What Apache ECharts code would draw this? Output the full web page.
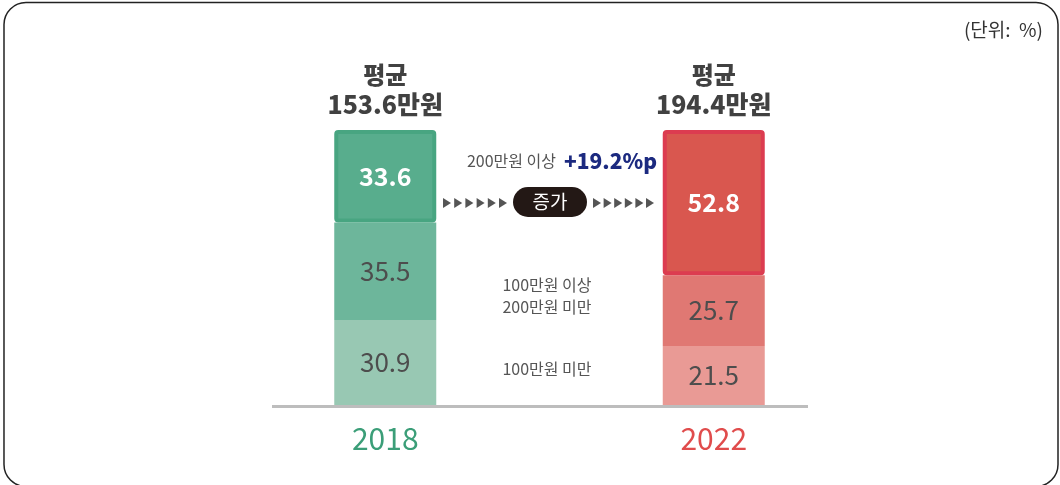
<!DOCTYPE html>
<html>
<head>
<meta charset="utf-8">
<script src="https://cdn.jsdelivr.net/npm/echarts@6/dist/echarts.min.js"></script>
<style>
html,body{margin:0;padding:0;background:#fff;}
#chart{width:1060px;height:485px;}
</style>
</head>
<body>
<div id="chart"></div>
<script>
const categories = ['2018', '2022'];
const under100 = [30.9, 21.5];
const from100to200 = [35.5, 25.7];
const over200 = [33.6, 52.8];
const averages = [153.6, 194.4];
const totals = [100, 100];

const FONT = '"Noto Sans CJK KR", "Noto Sans", sans-serif';
const lightColors = ['#98c8b3', '#e99a95'];
const midColors = ['#6db69b', '#e07873'];
const topColors = ['#58ad8d', '#d9574f'];
const topBorders = ['#48a581', '#dc3c50'];
const yearColors = ['#3b9e78', '#e04c4c'];

const chart = echarts.init(document.getElementById('chart'), null, {renderer: 'canvas'});

function tri(x, y) {
  return {type: 'polygon', shape: {points: [[x, y - 5], [x + 8, y], [x, y + 5]]}, style: {fill: '#555'}, silent: true};
}
const arrows = [];
for (let i = 0; i < 6; i++) arrows.push(tri(443 + i * 11.2, 203));
for (let i = 0; i < 6; i++) arrows.push(tri(593 + i * 10.6, 203));

const option = {
  animation: false,
  backgroundColor: '#fff',
  grid: {left: 221, right: 182, top: 130, bottom: 80},
  xAxis: {
    type: 'category',
    data: categories,
    axisLine: {show: false},
    axisTick: {show: false},
    axisLabel: {
      margin: 18,
      formatter: function (v, i) { return '{y' + i + '|' + v + '}'; },
      rich: {
        y0: {color: yearColors[0], fontSize: 30, fontFamily: FONT, lineHeight: 32},
        y1: {color: yearColors[1], fontSize: 30, fontFamily: FONT, lineHeight: 32}
      }
    }
  },
  yAxis: {type: 'value', min: 0, max: 100, show: false, splitLine: {show: false}},
  series: [
    {
      type: 'bar', stack: 's', barWidth: 102, z: 2,
      data: under100.map((v, i) => ({value: v, itemStyle: {color: lightColors[i]}})),
      label: {show: true, position: 'inside', color: '#4d4d4d', fontSize: 26, fontFamily: FONT}
    },
    {
      type: 'bar', stack: 's', barWidth: 102, z: 2,
      data: from100to200.map((v, i) => ({value: v, itemStyle: {color: midColors[i]}})),
      label: {show: true, position: 'inside', color: '#4d4d4d', fontSize: 26, fontFamily: FONT}
    },
    {
      type: 'bar', stack: 's', barWidth: 102, z: 3,
      data: over200.map((v, i) => ({value: v, itemStyle: {color: topColors[i], borderColor: topBorders[i], borderWidth: 4, borderRadius: 2}})),
      label: {show: true, position: 'inside', color: '#fff', fontSize: 25, fontWeight: 'bold', fontFamily: FONT}
    },
    {
      type: 'scatter', symbol: 'circle', symbolSize: 0.1, z: 4,
      itemStyle: {color: 'rgba(0,0,0,0)'},
      data: totals.map((v, i) => [categories[i], v]),
      label: {
        show: true, position: 'top', distance: 10,
        formatter: function (p) { return '{a|평균}\n{b|' + averages[p.dataIndex] + '만원}'; },
        rich: {
          a: {fontSize: 24, fontWeight: 900, color: '#111', fontFamily: FONT, lineHeight: 30, align: 'center'},
          b: {fontSize: 25, fontWeight: 900, color: '#111', fontFamily: FONT, lineHeight: 30, align: 'center'}
        }
      }
    }
  ],
  graphic: [
    {type: 'rect', shape: {x: 4, y: 2.5, width: 1054, height: 484, r: 22}, style: {fill: 'none', stroke: '#222', lineWidth: 1.5}, silent: true, z: 0},
    {type: 'line', shape: {x1: 272, y1: 406.5, x2: 808, y2: 406.5}, style: {stroke: '#bdbdbd', lineWidth: 3}, silent: true, z: 1},
    {type: 'text', x: 1043, y: 30, style: {text: '(단위:  %)', fill: '#333', fontSize: 19, fontFamily: FONT, textAlign: 'right', textVerticalAlign: 'middle'}, silent: true},
    {type: 'text', x: 556, y: 161, style: {text: '200만원 이상', fill: '#555', fontSize: 16, fontFamily: FONT, textAlign: 'right', textVerticalAlign: 'middle'}, silent: true},
    {type: 'text', x: 564, y: 161, style: {text: '+19.2%p', fill: '#1c2a80', fontSize: 21, fontWeight: 900, fontFamily: FONT, textAlign: 'left', textVerticalAlign: 'middle'}, silent: true},
    {type: 'rect', shape: {x: 513, y: 187, width: 74, height: 30, r: 15}, style: {fill: '#231815'}, silent: true},
    {type: 'text', x: 550, y: 202, style: {text: '증가', fill: '#fff', fontSize: 19, fontFamily: FONT, textAlign: 'center', textVerticalAlign: 'middle'}, silent: true},
    {type: 'text', x: 547, y: 296, style: {text: '100만원 이상\n200만원 미만', fill: '#555', fontSize: 16, lineHeight: 22, fontFamily: FONT, textAlign: 'center', textVerticalAlign: 'middle'}, silent: true},
    {type: 'text', x: 547, y: 369, style: {text: '100만원 미만', fill: '#555', fontSize: 16, fontFamily: FONT, textAlign: 'center', textVerticalAlign: 'middle'}, silent: true}
  ].concat(arrows)
};
chart.setOption(option);
</script>
</body>
</html>
